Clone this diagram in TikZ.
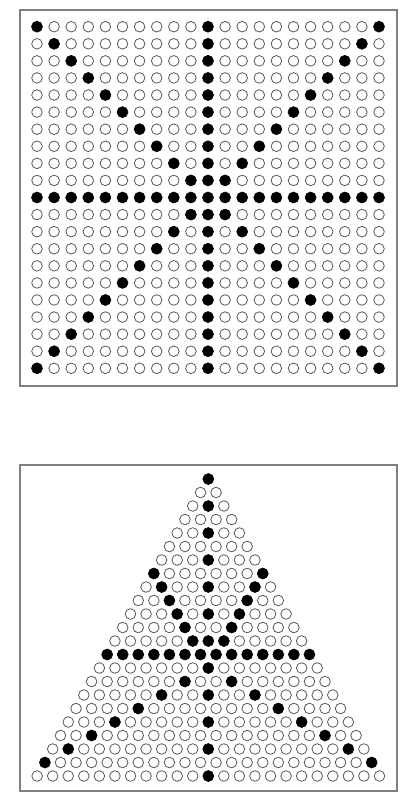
\documentclass[tikz,border=0pt]{standalone}
\begin{document}
\begin{tikzpicture}[x=1pt,y=-1pt,
  frame/.style={draw=black!50,line width=1.1pt},
  dotopen/.style={draw=black!65,line width=0.8pt,fill=white},
  dotfull/.style={draw=black,line width=0.6pt,fill=black}]
\useasboundingbox (0,0) rectangle (413,807);
% top frame
\draw[frame] (20,10) rectangle (397,386);
\foreach \i in {0,...,20}{
  \foreach \j in {0,...,20}{
    \pgfmathtruncatemacro\f{(\i==\j) || (\i+\j==20) || (\i==10) || (\j==10)}
    \ifnum\f=1
      \path[dotfull] ({37+17.1*\j},{26.7+17.08*\i}) circle (5.5);
    \else
      \path[dotopen] ({37+17.1*\j},{26.7+17.08*\i}) circle (5.3);
    \fi
  }
}
% bottom frame
\draw[frame] (20,465) rectangle (397,791);
\foreach \r in {0,...,22}{
  \foreach \k in {0,...,\r}{
    \pgfmathtruncatemacro\f{(mod(\r,2)==0 && 2*\k==\r) || (\r==13) || (\r>6 && \r<13 && (\k==\r-7 || \k==7)) || (\r>13 && \r<22 && (\k==21-\r || \k==2*\r-21))}
    \ifnum\f=1
      \path[dotfull] ({208.3+15.56*(\k-\r/2)},{479+13.5*\r}) circle (5.5);
    \else
      \path[dotopen] ({208.3+15.56*(\k-\r/2)},{479+13.5*\r}) circle (5.3);
    \fi
  }
}
\end{tikzpicture}
\end{document}
